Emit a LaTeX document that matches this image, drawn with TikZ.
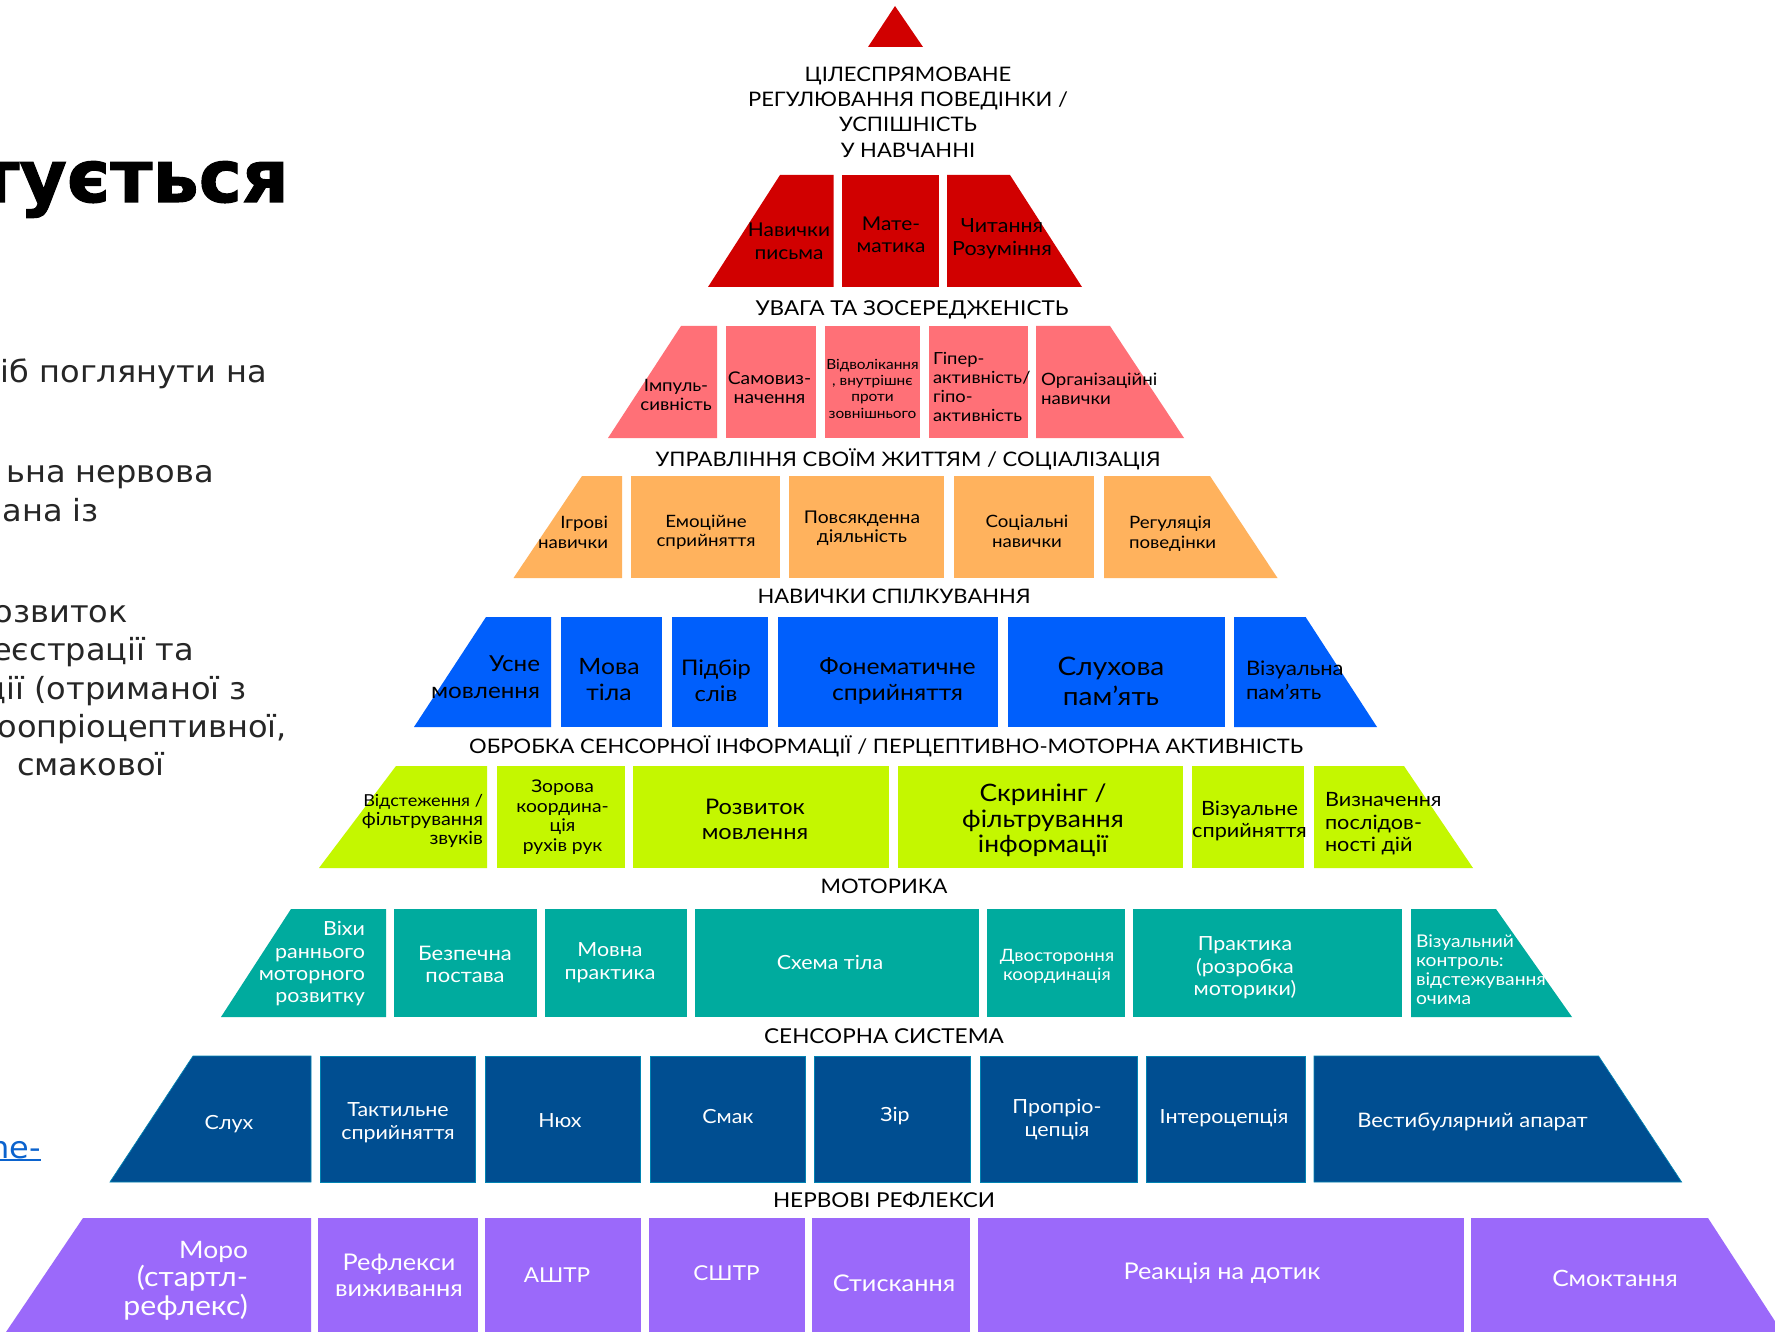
\documentclass[tikz,border=0pt]{standalone}
\usepackage{fontspec}
\setmainfont[FakeStretch=1.10]{Lato}
\newfontfamily\hvfont[FakeStretch=1.0,FakeBold=1.4]{DejaVu Sans Bold}
\newfontfamily\bodyfont[FakeStretch=1.05]{DejaVu Sans}
\definecolor{cred}{HTML}{D10000}
\definecolor{csalmon}{HTML}{FF7077}
\definecolor{corange}{HTML}{FFB25D}
\definecolor{cblue}{HTML}{005FFC}
\definecolor{clime}{HTML}{C4F700}
\definecolor{cteal}{HTML}{00AB9E}
\definecolor{cnavy}{HTML}{004E91}
\definecolor{cpurple}{HTML}{9B69FA}
\definecolor{clink}{HTML}{0B63CE}
\tikzset{
  txt/.style={inner sep=0pt,outer sep=0pt,text=black,align=center},
  wht/.style={txt,text=white},
  redc/.style={fill=cred},
  salc/.style={fill=csalmon},
  orac/.style={fill=corange},
  bluc/.style={fill=cblue},
  limc/.style={fill=clime},
  teac/.style={fill=cteal},
  navc/.style={fill=cnavy,draw=cnavy!70!cyan,line width=0.7pt},
  purc/.style={fill=cpurple},
  bodytxt/.style={inner sep=0pt,anchor=base east,font={\bodyfont\fontsize{30.5}{36}\selectfont},text=black!85}
}
\newcommand{\Lb}[7][]{\node[txt,#1] (#2) at (#3,#4) [font={\fontsize{#5}{#6}\selectfont}] {#7};}
\newcommand{\Wb}[7][]{\node[wht,#1] (#2) at (#3,#4) [font={\fontsize{#5}{#6}\selectfont}] {#7};}
\newcommand{\Bx}[5]{\fill[#1] (#2,#4) rectangle (#3,#5);}
\begin{document}
\begin{tikzpicture}[x=1pt,y=-1pt]
\useasboundingbox (0,0) rectangle (1775,1332);
\clip (0,0) rectangle (1775,1332);
\fill[white] (0,0) rectangle (1775,1332);

% left fragments
\node[inner sep=0pt,anchor=base east,font={\hvfont\fontsize{73}{80}\selectfont},text=black] (title) at (289,202) {тується};
\node[bodytxt] (p1) at (267,382.5) {сіб поглянути на};
\node[bodytxt] (p2) at (214,482.5) {ьна нервова};
\node[bodytxt] (p3) at (99,521) {ана із};
\node[bodytxt] (p4) at (128,622) {озвиток};
\node[bodytxt] (p5) at (194,660) {еєстрації та};
\node[bodytxt] (p6) at (247,699) {ції (отриманої з};
\node[bodytxt] (p7) at (287,737) {оопріоцептивної,};
\node[bodytxt] (p8) at (165,775) {смакової};
\node[bodytxt,text=clink] (lnk) at (41,1158) {ne-};
\draw[clink,line width=1.4pt] (0,1160) -- (41,1160);

% apex
\fill[cred] (895,6) -- (923,47) -- (868,47) -- cycle;
\Lb{top}{908}{112}{20}{25.4}{ЦІЛЕСПРЯМОВАНЕ\\РЕГУЛЮВАННЯ ПОВЕДІНКИ /\\УСПІШНІСТЬ\\У НАВЧАННІ}

% row 1
\fill[redc] (708,287) -- (780,175) -- (833.5,175) -- (833.5,287) -- cycle;
\Bx{redc}{842}{939}{175}{287}
\fill[redc] (947,175) -- (1010,175) -- (1082,287) -- (947,287) -- cycle;
\Lb{r1a}{789}{241}{19}{23}{Навички\\письма}
\Lb{r1b}{891}{234.5}{19}{22}{Мате-\\матика}
\Lb{r1c}{1002}{239}{19.5}{23}{Читання\\Розуміння}
\Lb{l2}{912}{310}{20.5}{24}{УВАГА ТА ЗОСЕРЕДЖЕНІСТЬ}

% row 2
\fill[salc] (608,438) -- (681,326) -- (717,326) -- (717,438) -- cycle;
\Bx{salc}{725.5}{816}{326}{438}
\Bx{salc}{825}{920}{326}{438}
\Bx{salc}{929}{1028}{326}{438}
\fill[salc] (1036,326) -- (1110,326) -- (1184,438) -- (1036,438) -- cycle;
\Lb{r2a}{676}{395}{17}{18.5}{Імпуль-\\сивність}
\Lb{r2b}{769.5}{387.5}{17.5}{19}{Самовиз-\\начення}
\Lb{r2c}{872.5}{388.5}{14}{16.3}{Відволікання\\, внутрішнє\\проти\\зовнішнього}
\Lb[anchor=west,align=left]{r2d}{933}{387}{16.7}{19}{Гіпер-\\активність/\\гіпо-\\активність}
\Lb[anchor=west,align=left]{r2e}{1041}{388.5}{17}{19}{Організаційні\\навички}
\Lb{l3}{908}{459}{20}{24}{УПРАВЛІННЯ СВОЇМ ЖИТТЯМ / СОЦІАЛІЗАЦІЯ}

% row 3
\fill[orac] (513.5,578) -- (582,476) -- (622,476) -- (622,578) -- cycle;
\Bx{orac}{631}{779.5}{476}{578}
\Bx{orac}{789}{944}{476}{578}
\Bx{orac}{953.5}{1094}{476}{578}
\fill[orac] (1104,476) -- (1210,476) -- (1277.5,578) -- (1104,578) -- cycle;
\Lb[anchor=east,align=right]{r3a}{608}{532}{17}{20}{Ігрові\\навички}
\Lb{r3b}{706}{532.5}{17}{19.5}{Емоційне\\сприйняття}
\Lb{r3c}{862}{528.5}{17.5}{19.5}{Повсякденна\\діяльність}
\Lb{r3d}{1027}{531.5}{17}{20}{Соціальні\\навички}
\Lb[anchor=west,align=left]{r3e}{1129}{534}{17}{20}{Регуляція\\поведінки}
\Lb{l4}{894}{596}{20}{24}{НАВИЧКИ СПІЛКУВАННЯ}

% row 4
\fill[bluc] (414,727) -- (486,617) -- (551,617) -- (551,727) -- cycle;
\Bx{bluc}{561}{661.5}{617}{727}
\Bx{bluc}{672}{768}{617}{727}
\Bx{bluc}{777.5}{998}{617}{727}
\Bx{bluc}{1008}{1224.6}{617}{727}
\fill[bluc] (1234,617) -- (1305.6,617) -- (1377,727) -- (1234,727) -- cycle;
\Lb[anchor=east,align=right]{r4a}{540}{677.5}{22}{27}{Усне\\мовлення}
\Lb{r4b}{609}{680}{22.5}{26}{Мова\\тіла}
\Lb{r4c}{716}{681}{21.5}{26}{Підбір\\слів}
\Lb{r4d}{897.5}{680.5}{22.5}{26}{Фонематичне\\сприйняття}
\Lb{r4e}{1111}{681}{25.5}{30}{Слухова\\пам'ять}
\Lb[anchor=west,align=left]{r4f}{1246}{680}{20}{24}{Візуальна\\пам'ять}
\Lb{l5}{886}{746}{20}{24}{ОБРОБКА СЕНСОРНОЇ ІНФОРМАЦІЇ / ПЕРЦЕПТИВНО-МОТОРНА АКТИВНІСТЬ}

% row 5
\fill[limc] (319,868) -- (396,766) -- (487,766) -- (487,868) -- cycle;
\Bx{limc}{497}{624.5}{766}{868}
\Bx{limc}{633}{889}{766}{868}
\Bx{limc}{898}{1183}{766}{868}
\Bx{limc}{1192}{1304}{766}{868}
\fill[limc] (1314,766) -- (1404,766) -- (1473,868) -- (1314,868) -- cycle;
\Lb[anchor=east,align=right]{r5a}{483}{820.5}{18}{19}{{\fontsize{16.5}{19}\selectfont Відстеження /}\\фільтрування\\звуків}
\Lb{r5b}{562.6}{817}{17.5}{19.6}{Зорова\\координа-\\ція\\рухів рук}
\Lb{r5c}{755}{819.5}{21.5}{25}{Розвиток\\мовлення}
\Lb{r5d}{1043}{820.5}{24}{25.5}{Скринінг /\\фільтрування\\інформації}
\Lb{r5e}{1249.5}{820.5}{19.7}{22}{Візуальне\\сприйняття}
\Lb[anchor=west,align=left]{r5f}{1325}{824}{19.7}{22.5}{Визначення\\послідов-\\ності дій}
\Lb{l6}{884}{886}{20}{24}{МОТОРИКА}

% row 6
\fill[teac] (221,1017) -- (291,909) -- (386,909) -- (386,1017) -- cycle;
\Bx{teac}{394}{537}{909}{1017}
\Bx{teac}{545}{687}{909}{1017}
\Bx{teac}{695}{979}{909}{1017}
\Bx{teac}{987}{1125}{909}{1017}
\Bx{teac}{1133}{1402}{909}{1017}
\fill[teac] (1411,909) -- (1496,909) -- (1572,1017) -- (1411,1017) -- cycle;
\Wb[anchor=east,align=right]{r6a}{365}{964}{19.5}{22.3}{Віхи\\раннього\\моторного\\розвитку}
\Wb{r6b}{465}{964}{20}{22}{Безпечна\\постава}
\Wb{r6c}{610}{963}{19.5}{23}{Мовна\\практика}
\Wb{r6d}{830}{962}{19.5}{22}{Схема тіла}
\Wb{r6e}{1057}{966}{17}{19}{Двостороння\\координація}
\Wb{r6f}{1245}{968}{19.5}{22.5}{Практика\\(розробка\\моторики)}
\Wb[anchor=west,align=left]{r6g}{1416}{970}{17.5}{19}{Візуальний\\контроль:\\відстежування\\очима}
\Lb{l7}{884}{1036}{20.5}{24}{СЕНСОРНА СИСТЕМА}

% row 7
\fill[navc] (110,1182) -- (193,1056) -- (311,1056) -- (311,1182) -- cycle;
\Bx{navc}{320}{475.5}{1056}{1182}
\Bx{navc}{485}{640}{1056}{1182}
\Bx{navc}{650}{805}{1056}{1182}
\Bx{navc}{814}{970}{1056}{1182}
\Bx{navc}{980}{1137}{1056}{1182}
\Bx{navc}{1146}{1305}{1056}{1182}
\fill[navc] (1314,1056) -- (1598.5,1056) -- (1681.6,1182) -- (1314,1182) -- cycle;
\Wb{r7a}{229}{1124}{19.5}{23}{Слух}
\Wb{r7b}{398}{1123}{19.5}{23}{Тактильне\\сприйняття}
\Wb{r7c}{560}{1121}{19.5}{23}{Нюх}
\Wb{r7d}{728}{1117}{19.5}{23}{Смак}
\Wb{r7e}{895}{1116}{19.5}{23}{Зір}
\Wb{r7f}{1057}{1120}{19.5}{23}{Пропріо-\\цепція}
\Wb{r7g}{1224}{1118}{19.5}{23}{Інтероцепція}
\Wb{r7h}{1472.5}{1122}{20}{23}{Вестибулярний апарат}
\Lb{l8}{884}{1200}{20.5}{24}{НЕРВОВІ РЕФЛЕКСИ}

% row 8
\fill[purc] (6,1332) -- (83,1218) -- (311,1218) -- (311,1332) -- cycle;
\Bx{purc}{318}{477.5}{1218}{1332}
\Bx{purc}{485}{641}{1218}{1332}
\Bx{purc}{648.5}{805}{1218}{1332}
\Bx{purc}{812}{970}{1218}{1332}
\Bx{purc}{977.5}{1464}{1218}{1332}
\fill[purc] (1471,1218) -- (1708,1218) -- (1782,1332) -- (1471,1332) -- cycle;
\Wb[anchor=east,align=right]{r8a}{248}{1280.5}{27.5}{28.5}{{\fontsize{24}{28.5}\selectfont Моро}\\(стартл-\\рефлекс)}
\Wb{r8b}{399}{1275}{23}{26}{Рефлекси\\виживання}
\Wb{r8c}{557}{1275}{20.5}{26}{АШТР}
\Wb{r8d}{726.5}{1273}{20.5}{26}{СШТР}
\Wb{r8e}{894}{1283}{23}{26}{Стискання}
\Wb{r8f}{1222}{1273}{23}{26}{Реакція на дотик}
\Wb{r8g}{1615}{1278}{22.5}{26}{Смоктання}
\end{tikzpicture}
\end{document}
